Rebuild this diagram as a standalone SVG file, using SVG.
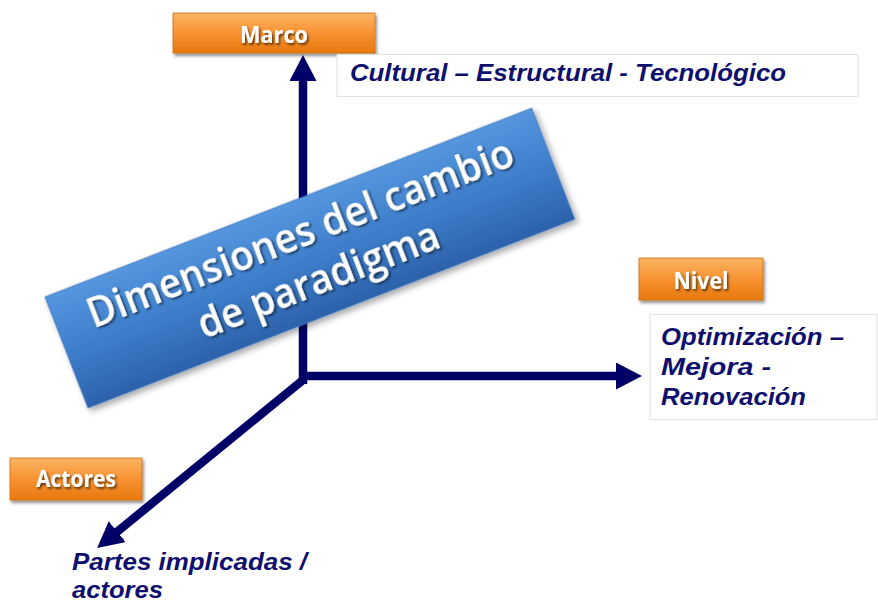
<svg xmlns="http://www.w3.org/2000/svg" width="878" height="603" viewBox="0 0 878 603">
<defs>
<linearGradient id="og" x1="0" y1="0" x2="0" y2="1">
<stop offset="0" stop-color="#fbb563"/>
<stop offset="0.5" stop-color="#f79232"/>
<stop offset="1" stop-color="#e8780e"/>
</linearGradient>
<linearGradient id="bg" x1="0" y1="0" x2="0" y2="1">
<stop offset="0" stop-color="#5596de"/>
<stop offset="0.5" stop-color="#3e7ecb"/>
<stop offset="1" stop-color="#2c62aa"/>
</linearGradient>
<filter id="sh" x="-10%" y="-20%" width="130%" height="160%">
<feDropShadow dx="1.5" dy="2.5" stdDeviation="1.8" flood-color="#000" flood-opacity="0.45"/>
</filter>
<filter id="bsh" x="-10%" y="-20%" width="130%" height="160%">
<feDropShadow dx="2" dy="4" stdDeviation="3" flood-color="#000" flood-opacity="0.35"/>
</filter>
<filter id="tsh" x="-10%" y="-20%" width="120%" height="160%">
<feDropShadow dx="1.5" dy="2" stdDeviation="1.2" flood-color="#000" flood-opacity="0.6"/>
</filter>
<marker id="ah" viewBox="0 0 26 27" markerUnits="userSpaceOnUse" markerWidth="26" markerHeight="27" refX="10" refY="13.5" orient="auto">
<path d="M0,0 L26,13.5 L0,27 z" fill="#000066"/>
</marker>
<style>
.ax{stroke:#000066;stroke-width:8.5;fill:none;stroke-linejoin:miter}
.ob{fill:url(#og);stroke:#d06f12;stroke-width:0.8;filter:url(#sh)}
.ol{font-family:"Open Sans","DejaVu Sans",sans-serif;font-weight:bold;font-size:24px;fill:#fff;text-anchor:middle;filter:url(#tsh)}
.tb{fill:#fff;stroke:#e2e2e2;stroke-width:1}
.it{font-family:"Liberation Sans",Arial,sans-serif;font-weight:bold;font-style:italic;font-size:24.5px;fill:#0f0f6e}
.bt{font-family:"Open Sans","DejaVu Sans",sans-serif;font-weight:600;font-size:42px;fill:#fff;text-anchor:middle}
</style>
</defs>
<rect width="878" height="603" fill="#fff"/>
<g id="connectors">
<path class="ax" d="M303,384 L303,71" marker-end="url(#ah)"/>
<path class="ax" d="M299,376 L626,376" marker-end="url(#ah)"/>
<path class="ax" d="M303,380 L109.5,538" marker-end="url(#ah)"/>
</g>
<g id="marco">
<rect class="ob" x="173" y="13" width="202" height="40"/>
<text class="ol" x="274" y="43" textLength="68" lengthAdjust="spacingAndGlyphs">Marco</text>
</g>
<g id="marco-desc">
<rect class="tb" x="337" y="54.5" width="521" height="42"/>
<text class="it" x="350" y="81" textLength="436" lengthAdjust="spacingAndGlyphs">Cultural – Estructural - Tecnológico</text>
</g>
<g id="nivel">
<rect class="ob" x="639" y="258" width="124" height="42"/>
<text class="ol" x="701" y="289" textLength="55" lengthAdjust="spacingAndGlyphs">Nivel</text>
</g>
<g id="nivel-desc">
<rect class="tb" x="650" y="314.5" width="227" height="105"/>
<text class="it" x="661" y="345" textLength="183" lengthAdjust="spacingAndGlyphs">Optimización –</text>
<text class="it" x="661" y="375" textLength="110" lengthAdjust="spacingAndGlyphs">Mejora -</text>
<text class="it" x="661" y="405" textLength="145" lengthAdjust="spacingAndGlyphs">Renovación</text>
</g>
<g id="actores">
<rect class="ob" x="10" y="458" width="132" height="42"/>
<text class="ol" x="76" y="487" textLength="80" lengthAdjust="spacingAndGlyphs">Actores</text>
</g>
<g id="actores-desc">
<text class="it" x="72" y="570" textLength="235" lengthAdjust="spacingAndGlyphs">Partes implicadas /</text>
<text class="it" x="72" y="598" textLength="91" lengthAdjust="spacingAndGlyphs">actores</text>
</g>
<g id="dimensiones" transform="translate(45,297) rotate(-21.2)">
<rect x="0" y="0" width="522" height="119" fill="url(#bg)" stroke="#3a72b8" stroke-width="0.8" filter="url(#bsh)"/>
<g filter="url(#tsh)">
<text class="bt" x="261" y="47" textLength="454" lengthAdjust="spacingAndGlyphs">Dimensiones del cambio</text>
<text class="bt" x="261" y="97" textLength="256" lengthAdjust="spacingAndGlyphs">de paradigma</text>
</g>
</g>
</svg>
